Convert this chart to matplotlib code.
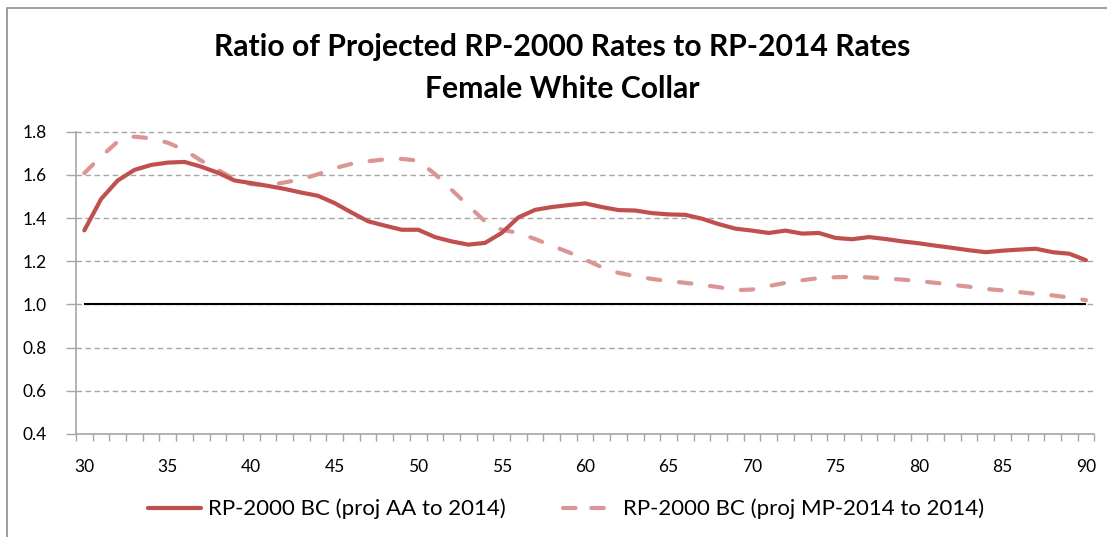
import matplotlib
matplotlib.use("Agg")
import matplotlib.pyplot as plt
from matplotlib.lines import Line2D
from matplotlib.patches import Rectangle
import numpy as np

plt.rcParams['font.family'] = ['Lato', 'DejaVu Sans']

ages = list(range(30, 91))
proj_aa = [1.343, 1.488, 1.574, 1.623, 1.646, 1.657, 1.660, 1.638, 1.610, 1.574,
           1.562, 1.549, 1.535, 1.518, 1.503, 1.469, 1.426, 1.385, 1.365, 1.346,
           1.346, 1.312, 1.292, 1.277, 1.285, 1.331, 1.403, 1.438, 1.451, 1.460,
           1.468, 1.451, 1.437, 1.435, 1.423, 1.417, 1.415, 1.397, 1.372, 1.351,
           1.342, 1.331, 1.342, 1.328, 1.331, 1.308, 1.302, 1.312, 1.303, 1.292,
           1.283, 1.272, 1.262, 1.251, 1.242, 1.249, 1.254, 1.258, 1.242, 1.235,
           1.205]
proj_mp = [1.608, 1.685, 1.754, 1.777, 1.769, 1.749, 1.715, 1.666, 1.623, 1.580,
           1.557, 1.552, 1.565, 1.580, 1.603, 1.631, 1.651, 1.663, 1.672, 1.674,
           1.666, 1.604, 1.531, 1.457, 1.385, 1.346, 1.331, 1.303, 1.272, 1.242,
           1.208, 1.172, 1.146, 1.131, 1.118, 1.108, 1.100, 1.091, 1.080, 1.066,
           1.069, 1.085, 1.100, 1.112, 1.122, 1.126, 1.128, 1.125, 1.120, 1.115,
           1.108, 1.100, 1.091, 1.082, 1.072, 1.065, 1.057, 1.049, 1.042, 1.032,
           1.020]
baseline = [1.0] * len(ages)

labels = ["RP-2000 BC (proj AA to 2014)", "RP-2000 BC (proj MP-2014 to 2014)"]
title = "Ratio of Projected RP-2000 Rates to RP-2014 Rates\nFemale White Collar"
yticks = [0.4, 0.6, 0.8, 1.0, 1.2, 1.4, 1.6, 1.8]
xlabel_ticks = list(range(30, 91, 5))

solid_c = '#C0504D'
dash_c = '#DA9694'
grid_c = '#A6A6A6'

fig = plt.figure(figsize=(11.07, 5.37), dpi=100)
ax = fig.add_axes([76/1107, 1-434/537, (1094.3-76)/1107, (434-131.7)/537])

for y in yticks[1:]:
    ax.axhline(y, color=grid_c, lw=1.0, ls=(0, (4, 2.5)), zorder=1, clip_on=False)

ax.plot(ages, baseline, color='black', lw=1.5, zorder=2, solid_capstyle='butt')
ax.plot(ages, proj_aa, color=solid_c, lw=3, zorder=4, solid_capstyle='round',
        solid_joinstyle='round')
ax.plot(ages, proj_mp, color=dash_c, lw=3, zorder=3, ls=(0, (3.0, 4.5)),
        dash_capstyle='round', dash_joinstyle='round')

ax.set_xlim(29.5, 90.5)
ax.set_ylim(0.4, 1.8)
ax.set_yticks(yticks)
ax.set_yticklabels([f"{v:.1f}" for v in yticks])
ax.set_xticks(xlabel_ticks)
ax.set_xticks(np.arange(29.5, 91.0, 1.0), minor=True)
ax.tick_params(axis='x', which='major', length=0, pad=18, labelsize=12.5)
ax.tick_params(axis='x', which='minor', length=5, width=1, color=grid_c, direction='out')
ax.tick_params(axis='y', which='major', length=7, width=1, color=grid_c, pad=14, labelsize=12.5)
for s in ['top', 'right']:
    ax.spines[s].set_visible(False)
for s in ['left', 'bottom']:
    ax.spines[s].set_color(grid_c)
    ax.spines[s].set_linewidth(1.2)

fig.text(562/1107, 1-68/537, title, ha='center', va='center', fontsize=21.7,
         fontweight='bold', linespacing=1.6)

handles = [Line2D([], [], color=solid_c, lw=3, solid_capstyle='round'),
           Line2D([], [], color=dash_c, lw=3, ls=(0, (3.0, 3.8)), dash_capstyle='round')]
fig.legend(handles, labels, loc='center', bbox_to_anchor=(566/1107, 1-509/537), ncol=2,
           frameon=False, fontsize=16, handlelength=2.4, columnspacing=2.6,
           handletextpad=0.3)

fig.add_artist(Rectangle((6.5/1107, -0.1), 1.2, 1-7.5/537+0.1, transform=fig.transFigure,
                         fill=False, edgecolor='#8C8C8C', lw=1.2))

fig.savefig('out.png', dpi=100)
